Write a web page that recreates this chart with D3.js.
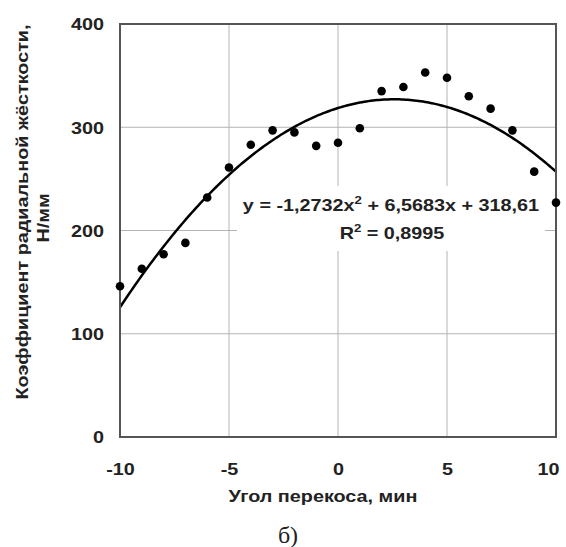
<!DOCTYPE html>
<html><head><meta charset="utf-8">
<script src="https://cdn.jsdelivr.net/npm/d3@7"></script>
<style>
body{margin:0;background:#fff;}
svg text{font-family:"Liberation Sans",Arial,sans-serif;font-weight:bold;fill:#222;}
</style></head>
<body><svg id="c" width="566" height="547"></svg>
<script>
const xValues = [-10,-9,-8,-7,-6,-5,-4,-3,-2,-1,0,1,2,3,4,5,6,7,8,9,10];
const yValues = [146,163,177,188,232,261,283,297,295,282,285,299,335,339,353,348,330,318,297,257,227];
const xTicks = [-10,-5,0,5,10];
const yTicks = [0,100,200,300,400];
const coef = {a:-1.2732, b:6.5683, c:318.61};
const eqParts = ["y = -1,2732x", "2", " + 6,5683x + 318,61"];
const r2Parts = ["R", "2", " = 0,8995"];
const SX = 1.2; // horizontal text stretch seen in the reference
const FS = "16.5px";

const svg = d3.select("#c");
const x = d3.scaleLinear().domain([-10,10]).range([120,556]);
const y = d3.scaleLinear().domain([0,400]).range([437,24]);

// gridlines
svg.append("g").selectAll("line").data(yTicks.filter(d=>d>0&&d<400)).join("line")
  .attr("x1",x(-10)).attr("x2",x(10)).attr("y1",d=>y(d)).attr("y2",d=>y(d))
  .attr("stroke","#b4b4b4").attr("stroke-width",1);
svg.append("g").selectAll("line").data(xTicks.filter(d=>d>-10&&d<10)).join("line")
  .attr("y1",y(0)).attr("y2",y(400)).attr("x1",d=>x(d)).attr("x2",d=>x(d))
  .attr("stroke","#b4b4b4").attr("stroke-width",1);

// trend curve
const curveX = d3.range(-10,10.001,0.1);
const line = d3.line().x(d=>x(d)).y(d=>y(coef.a*d*d+coef.b*d+coef.c));
svg.append("path").datum(curveX).attr("d",line).attr("fill","none")
  .attr("stroke","#000").attr("stroke-width",2.5);

// label box
svg.append("rect").attr("x",237).attr("y",186).attr("width",308).attr("height",65).attr("fill","#fff");

// frame
svg.append("rect").attr("x",x(-10)).attr("y",y(400)).attr("width",x(10)-x(-10)).attr("height",y(0)-y(400))
  .attr("fill","none").attr("stroke","#555").attr("stroke-width",2);

// points
svg.append("g").selectAll("circle").data(xValues).join("circle")
  .attr("cx",d=>x(d)).attr("cy",(d,i)=>y(yValues[i])).attr("r",4.3).attr("fill","#000");

// axes labels
const xAxis = d3.axisBottom(x).tickValues(xTicks).tickSize(0).tickPadding(0).tickFormat(d=>String(d));
const gx = svg.append("g").attr("transform",`translate(0,${y(0)})`).call(xAxis);
gx.select(".domain").remove();
gx.selectAll("text").attr("y",0).attr("dy",0)
  .attr("transform",d=>`translate(${d===10?-8:0},38) scale(${SX},1)`)
  .style("font-size",FS).style("font-family","Liberation Sans").style("font-weight","bold").attr("fill","#222");

const yAxis = d3.axisLeft(y).tickValues(yTicks).tickSize(0).tickPadding(0).tickFormat(d=>String(d));
const gy = svg.append("g").attr("transform",`translate(104,0)`).call(yAxis);
gy.select(".domain").remove();
gy.selectAll("text").attr("x",0).attr("dy","0.36em").attr("transform","scale("+SX+",1)")
  .style("font-size",FS).style("font-family","Liberation Sans").style("font-weight","bold").attr("fill","#222");

// axis titles
svg.append("text").attr("transform",`translate(323,502) scale(${SX},1)`).attr("text-anchor","middle").style("font-size",FS).text("Угол перекоса, мин");
svg.append("text").attr("transform",`translate(28,212) rotate(-90) scale(${SX},1)`).attr("text-anchor","middle").style("font-size",FS).text("Коэффициент радиальной жёсткости,");
svg.append("text").attr("transform",`translate(49,218) rotate(-90) scale(${SX},1)`).attr("text-anchor","middle").style("font-size",FS).text("Н/мм");

// equation
function supText(cx, cy, parts){
  const t = svg.append("text").attr("transform",`translate(${cx},${cy}) scale(${SX},1)`).attr("text-anchor","middle").style("font-size",FS);
  t.append("tspan").text(parts[0]);
  t.append("tspan").attr("dy",-7).style("font-size","11px").text(parts[1]);
  t.append("tspan").attr("dy",7).text(parts[2]);
}
supText(391,211,eqParts);
supText(392,239,r2Parts);

// caption
svg.append("text").attr("x",288).attr("y",543).attr("text-anchor","middle")
  .style("font-family","'Liberation Serif','Times New Roman',serif").style("font-weight","normal").style("font-size","24px").attr("fill","#000").text("б)");
</script></body></html>
